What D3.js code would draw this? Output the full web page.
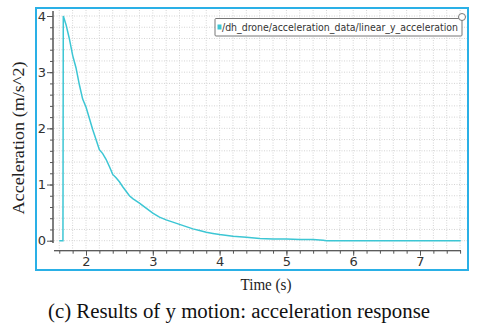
<!DOCTYPE html>
<html>
<head>
<meta charset="utf-8">
<script src="https://cdn.jsdelivr.net/npm/d3@7"></script>
<style>
  body { margin: 0; background: #fff; }
  svg { display: block; }
</style>
</head>
<body>
<div id="chart"></div>
<script>
// chart size
const width = 480
const height = 331

// data
const times = [1.60, 1.655, 1.66, 1.70, 1.75, 1.80, 1.85, 1.90, 1.95, 2.00, 2.05, 2.10, 2.15, 2.20, 2.25, 2.30,
  2.35, 2.40, 2.45, 2.50, 2.55, 2.60, 2.65, 2.70, 2.75, 2.80, 2.90, 3.00, 3.10, 3.20, 3.30, 3.40, 3.50,
  3.60, 3.70, 3.80, 3.90, 4.00, 4.20, 4.40, 4.60, 4.80, 5.00, 5.20, 5.40, 5.55, 5.60, 6.00, 7.00, 7.61]
const accel = [0, 0, 4.0, 3.85, 3.60, 3.30, 3.08, 2.78, 2.52, 2.38, 2.18, 1.98, 1.80, 1.62, 1.55, 1.45,
  1.32, 1.18, 1.12, 1.05, 0.96, 0.88, 0.80, 0.75, 0.71, 0.67, 0.58, 0.49, 0.42, 0.37, 0.33, 0.29, 0.25,
  0.21, 0.18, 0.15, 0.13, 0.11, 0.08, 0.06, 0.04, 0.03, 0.03, 0.02, 0.02, 0.01, 0.00, 0.00, 0.00, 0.00]
const xTicks = [2, 3, 4, 5, 6, 7]
const yTicks = [0, 1, 2, 3, 4]
const seriesName = "/dh_drone/acceleration_data/linear_y_acceleration"

const svg = d3.select("#chart")
  .append("svg")
  .attr("width", width)
  .attr("height", height)

// scales
const x = d3.scaleLinear().domain([2, 7]).range([86, 420])
const y = d3.scaleLinear().domain([0, 4]).range([240.7, 16])

const xLeft = x.invert(54), xRight = x.invert(461)
const yBot = y.invert(243), yTop = y.invert(11)

// minor grid every 0.2
const xMinor = d3.range(Math.ceil(xLeft * 5), Math.floor(xRight * 5) + 1).map(d => d / 5)
const yMinor = d3.range(Math.ceil(yBot * 5), Math.floor(yTop * 5) + 1).map(d => d / 5)

const grid = svg.append("g").attr("stroke", "#d4d4d4").attr("stroke-dasharray", "1,1.5")
grid.selectAll("line.v").data(xMinor).enter().append("line")
  .attr("x1", d => x(d)).attr("x2", d => x(d))
  .attr("y1", 10).attr("y2", 250)
grid.selectAll("line.h").data(yMinor).enter().append("line")
  .attr("x1", 54).attr("x2", 467)
  .attr("y1", d => y(d)).attr("y2", d => y(d))

// y axis
const yAxisScale = y.copy().domain([yBot, yTop]).range([243, 11])
const gy = svg.append("g").attr("transform", "translate(53,0)")
gy.call(d3.axisLeft(yAxisScale).tickValues(yMinor).tickSize(3).tickFormat(""))
gy.call(g => g.append("g").call(d3.axisLeft(yAxisScale).tickValues(yTicks).tickSize(6).tickFormat(d3.format("d"))))
gy.selectAll("path.domain").attr("d", "M0,11V243").attr("stroke", "#555")
gy.selectAll(".tick line").attr("stroke", "#555")
gy.selectAll("text").attr("font-family", "DejaVu Sans").attr("font-size", 13).attr("fill", "#333").attr("x", -7)

// x axis
const xAxisScale = x.copy()
const gx = svg.append("g").attr("transform", "translate(0,250.7)")
gx.call(d3.axisBottom(xAxisScale).tickValues(xMinor).tickSize(3).tickFormat(""))
gx.call(g => g.append("g").call(d3.axisBottom(xAxisScale).tickValues(xTicks).tickSize(5).tickFormat(d3.format("d"))))
gx.selectAll("path.domain").attr("d", "M54,0H461").attr("stroke", "#555")
gx.selectAll(".tick line").attr("stroke", "#555")
gx.selectAll("text").attr("font-family", "DejaVu Sans").attr("font-size", 13).attr("fill", "#333").attr("y", 6)

// the series
const points = times.map((t, i) => [t, accel[i]])
svg.append("path")
  .datum(points)
  .attr("fill", "none")
  .attr("stroke", "#3cc6d4")
  .attr("stroke-width", 1.5)
  .attr("d", d3.line().x(d => x(d[0])).y(d => y(d[1])))

// legend
const legend = svg.append("g")
legend.append("rect")
  .attr("x", 215).attr("y", 18.5).attr("width", 247).attr("height", 17.5)
  .attr("fill", "#fff").attr("stroke", "#777").attr("rx", 1)
legend.append("rect")
  .attr("x", 217.5).attr("y", 24.5).attr("width", 4).attr("height", 5)
  .attr("fill", "#3cc6d4")
legend.append("text")
  .attr("x", 222).attr("y", 31)
  .attr("font-family", "DejaVu Sans Condensed, DejaVu Sans")
  .attr("font-size", 10.5)
  .attr("fill", "#333")
  .attr("textLength", 236)
  .attr("lengthAdjust", "spacingAndGlyphs")
  .text(seriesName)
legend.append("circle")
  .attr("cx", 462).attr("cy", 17).attr("r", 3.5)
  .attr("fill", "#fff").attr("stroke", "#777")

// frame
svg.append("rect")
  .attr("x", 36).attr("y", 8).attr("width", 432).attr("height", 262)
  .attr("fill", "none").attr("stroke", "#2ab0e6").attr("stroke-width", 2)

// axis titles and caption
svg.append("text")
  .attr("transform", "translate(24,138) rotate(-90)")
  .attr("text-anchor", "middle")
  .attr("font-family", "Liberation Serif")
  .attr("font-size", 16)
  .attr("fill", "#222")
  .attr("textLength", 153)
  .attr("lengthAdjust", "spacingAndGlyphs")
  .text("Acceleration (m/s^2)")

svg.append("text")
  .attr("x", 266).attr("y", 290)
  .attr("text-anchor", "middle")
  .attr("font-family", "Liberation Serif")
  .attr("font-size", 16.5)
  .attr("fill", "#222")
  .attr("textLength", 51)
  .attr("lengthAdjust", "spacingAndGlyphs")
  .text("Time (s)")

svg.append("text")
  .attr("x", 239).attr("y", 318)
  .attr("text-anchor", "middle")
  .attr("font-family", "Liberation Serif")
  .attr("font-size", 20)
  .attr("fill", "#111")
  .attr("textLength", 382)
  .attr("lengthAdjust", "spacingAndGlyphs")
  .text("(c) Results of y motion: acceleration response")
</script>
</body>
</html>
